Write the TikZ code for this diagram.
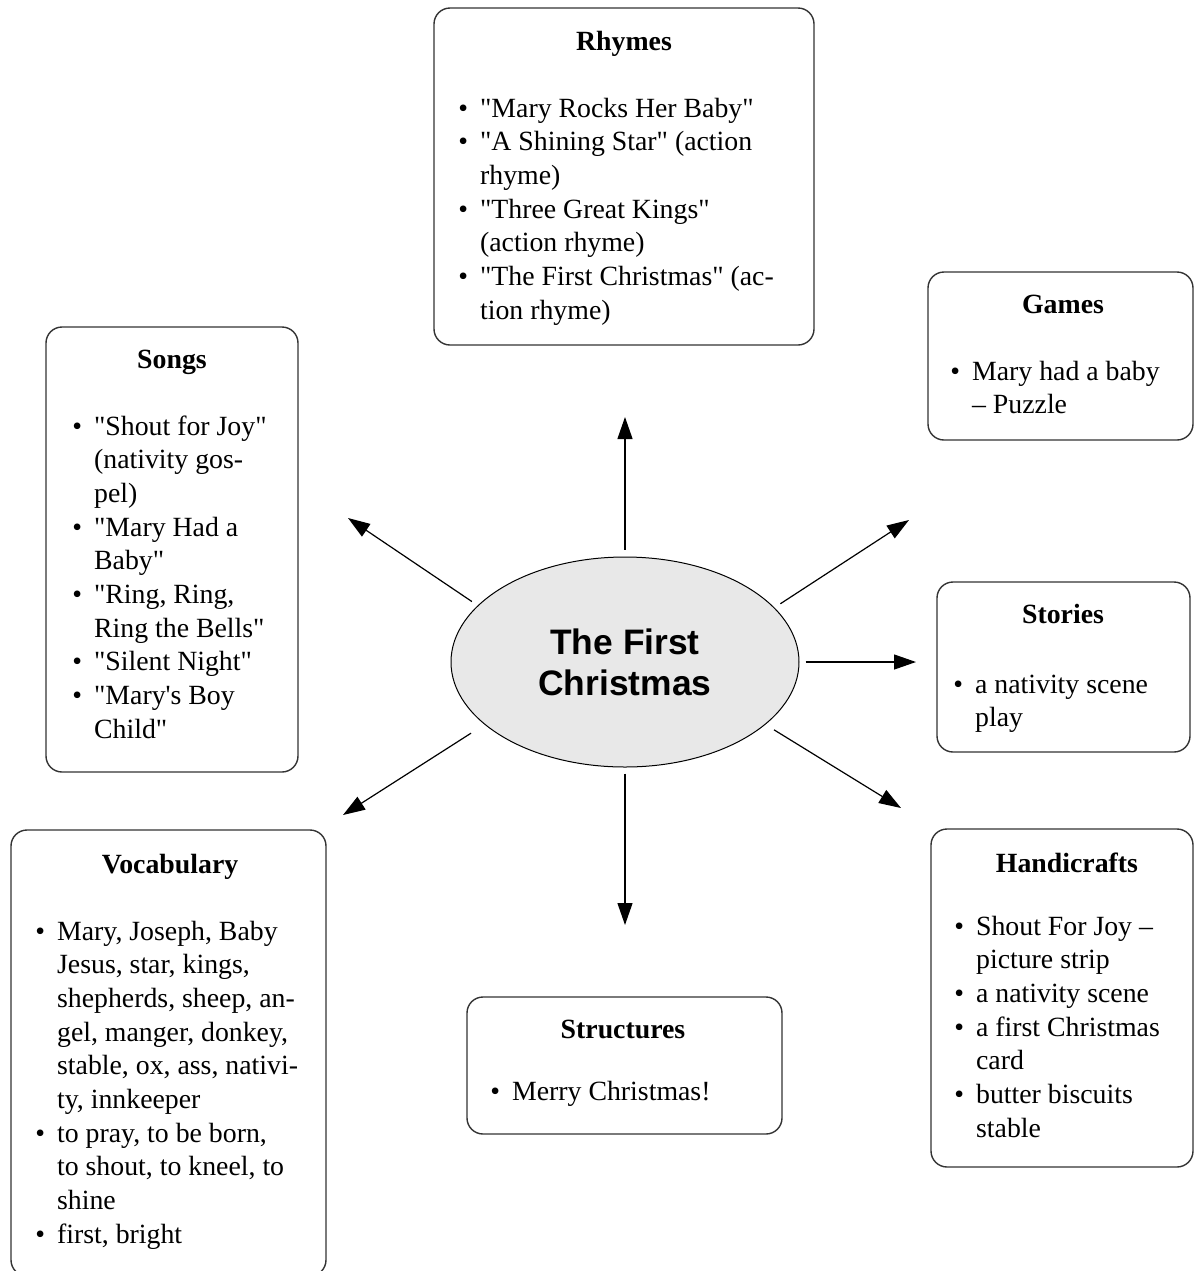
\documentclass[tikz,border=0pt]{standalone}
\usepackage{fontspec}
\setmainfont{Liberation Serif}[Ligatures=TeXOff]
\newfontfamily\headfont{Liberation Sans}
\usetikzlibrary{shapes.geometric,arrows.meta}
\newcommand{\boxfont}{\fontsize{13.9}{16.85}\selectfont}
\newcommand{\bulletlist}[1]{\begin{tabular}[t]{@{}l@{\hspace{6pt}}l@{}}#1\end{tabular}}

\begin{document}
\begin{tikzpicture}[x=0.5pt,y=-0.5pt,
        box/.style={draw=black!80, line width=0.7pt, rounded corners=8pt},
        heading/.style={anchor=base, inner sep=0pt, font=\boxfont\bfseries},
        items/.style={anchor=base west, inner sep=0pt, font=\boxfont},
        arrow/.style={line width=0.6pt, -{Triangle[length=11pt,width=7.5pt]}}]
        \useasboundingbox (0,0) rectangle (1194,1271);

        \node[ellipse, draw, line width=0.5pt, fill=gray!18, minimum width=174pt, minimum height=105pt,
              inner sep=0pt, align=center, font=\headfont\bfseries\fontsize{17.7}{20.5}\selectfont]
              (topic) at (625,662) {The First\\Christmas};

        \coordinate (tipRhymes) at (625,417);
        \coordinate (tipGames) at (909,520);
        \coordinate (tipStories) at (916,662);
        \coordinate (tipCrafts) at (901,808);
        \coordinate (tipStructures) at (625,925);
        \coordinate (tipVocab) at (343,815);
        \coordinate (tipSongs) at (348,518);
        \draw[arrow, shorten <=3.5pt] (topic.north) -- (tipRhymes);
        \draw[arrow, shorten <=3.5pt] (topic.20) -- (tipGames);
        \draw[arrow, shorten <=3pt] (topic.east) -- (tipStories);
        \draw[arrow, shorten <=5pt] (topic.-24) -- (tipCrafts);
        \draw[arrow, shorten <=3pt] (topic.south) -- (tipStructures);
        \draw[arrow, shorten <=8pt] (topic.204) -- (tipVocab);
        \draw[arrow, shorten <=3.5pt] (topic.159) -- (tipSongs);

        \draw[box] (434,8) rectangle (814,345);
        \node[heading] (rhymesHead) at (624,50) {Rhymes};
        \node[items] (rhymesList) at (458,117) {\bulletlist{
            \textbullet & "Mary Rocks Her Baby" \\
            \textbullet & "A Shining Star" (action \\
                        & rhyme) \\
            \textbullet & "Three Great Kings" \\
                        & (action rhyme) \\
            \textbullet & "The First Christmas" (ac- \\
                        & tion rhyme)}};

        \draw[box] (928,272) rectangle (1193,440);
        \node[heading] (gamesHead) at (1063,313) {Games};
        \node[items] (gamesList) at (950,380) {\bulletlist{
            \textbullet & Mary had a baby \\
                        & – Puzzle}};

        \draw[box] (937,582) rectangle (1190,752);
        \node[heading] (storiesHead) at (1063,623) {Stories};
        \node[items] (storiesList) at (953,693) {\bulletlist{
            \textbullet & a nativity scene \\
                        & play}};

        \draw[box] (931,829) rectangle (1193,1167);
        \node[heading] (craftsHead) at (1067,872) {Handicrafts};
        \node[items] (craftsList) at (954,935) {\bulletlist{
            \textbullet & Shout For Joy – \\
                        & picture strip \\
            \textbullet & a nativity scene \\
            \textbullet & a first Christmas \\
                        & card \\
            \textbullet & butter biscuits \\
                        & stable}};

        \draw[box] (467,997) rectangle (782,1134);
        \node[heading] (structuresHead) at (623,1038) {Structures};
        \node[items] (structuresList) at (490,1100) {\bulletlist{
            \textbullet & Merry Christmas!}};

        \draw[box] (11,830) rectangle (326,1276);
        \node[heading] (vocabHead) at (170,873) {Vocabulary};
        \node[items] (vocabList) at (35,940) {\bulletlist{
            \textbullet & Mary, Joseph, Baby \\
                        & Jesus, star, kings, \\
                        & shepherds, sheep, an- \\
                        & gel, manger, donkey, \\
                        & stable, ox, ass, nativi- \\
                        & ty, innkeeper \\
            \textbullet & to pray, to be born, \\
                        & to shout, to kneel, to \\
                        & shine \\
            \textbullet & first, bright}};

        \draw[box] (46,327) rectangle (298,772);
        \node[heading] (songsHead) at (172,368) {Songs};
        \node[items] (songsList) at (72,435) {\bulletlist{
            \textbullet & "Shout for Joy" \\
                        & (nativity gos- \\
                        & pel) \\
            \textbullet & "Mary Had a \\
                        & Baby" \\
            \textbullet & "Ring, Ring, \\
                        & Ring the Bells" \\
            \textbullet & "Silent Night" \\
            \textbullet & "Mary's Boy \\
                        & Child"}};
    \end{tikzpicture}
\end{document}
